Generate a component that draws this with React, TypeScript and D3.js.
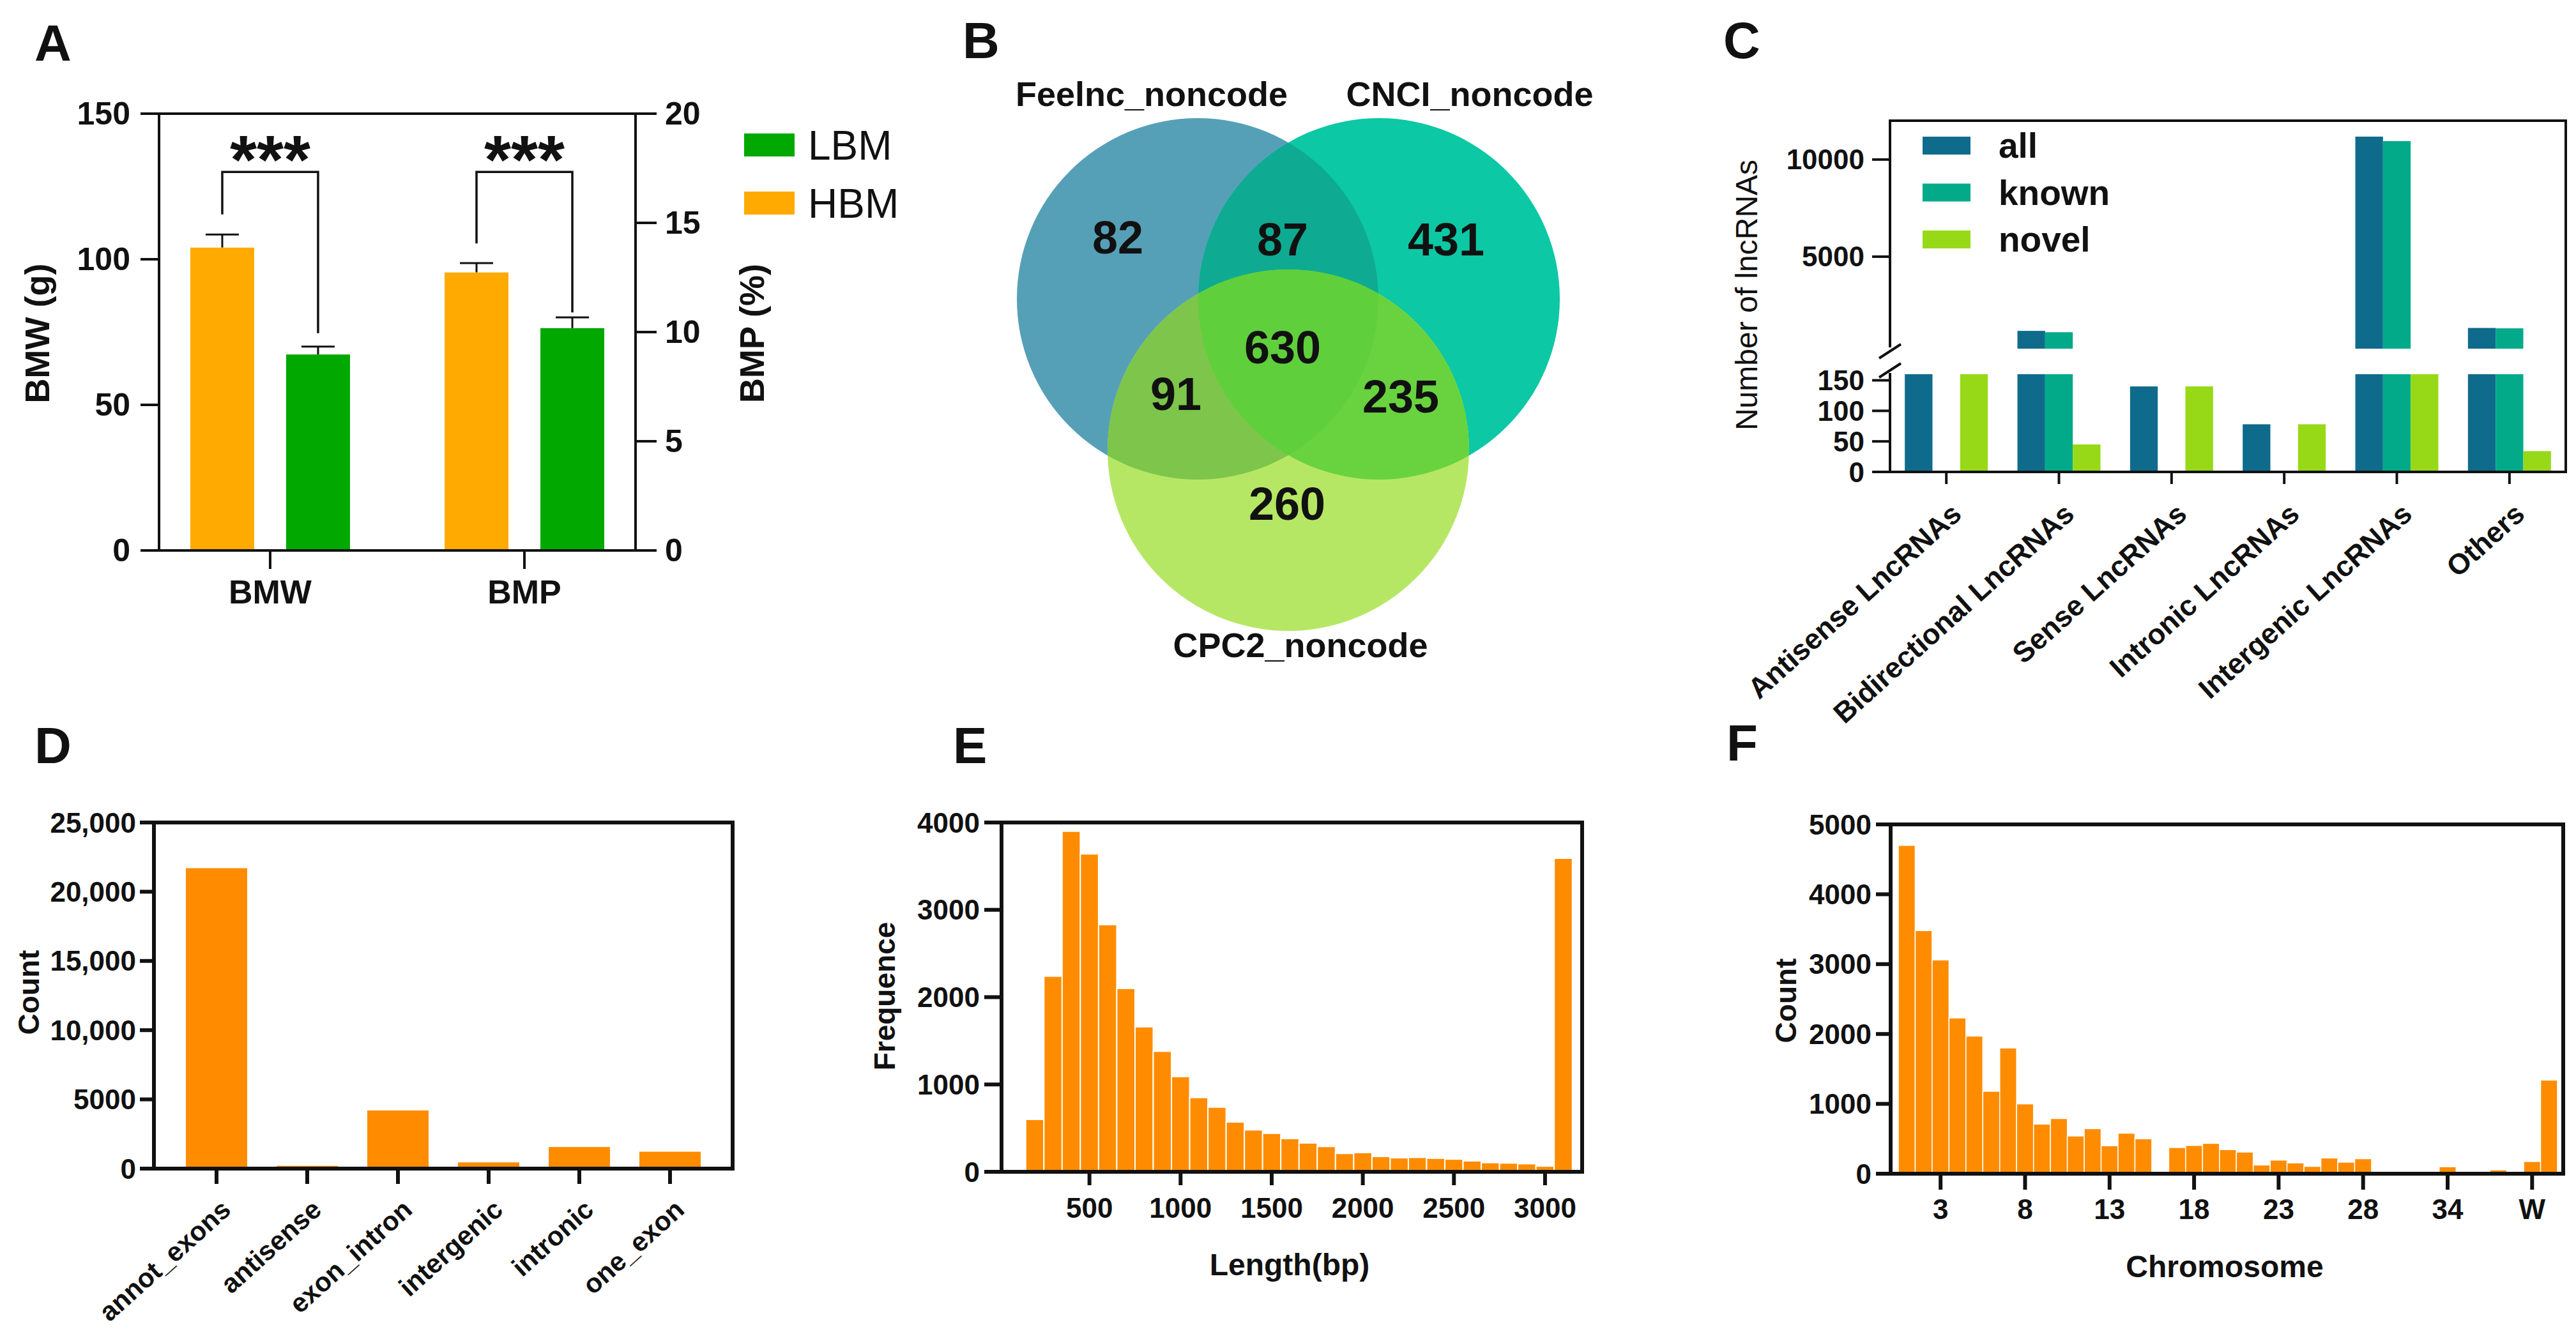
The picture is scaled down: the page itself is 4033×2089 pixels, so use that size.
import React from "react";
import * as d3 from "d3";

const FONT = "'Liberation Sans', Arial, Helvetica, sans-serif";
const INK = "#111111";

// ---------------- Panel A data ----------------
const aGroups = ["BMW", "BMP"];
const aSeries = ["HBM", "LBM"];
const aLegend = ["LBM", "HBM"];
const aHBMMean = [104, 12.73];
const aHBMErr = [4.5, 0.43];
const aLBMMean = [67.3, 10.18];
const aLBMErr = [2.7, 0.49];
const aSigLeft = [115.4, 14.06];
const aSigRight = [74.6, 10.9];
const aSigTop = [130, 17.33];
const aSigText = ["***", "***"];
const aTicksLeft = [0, 50, 100, 150];
const aTicksRight = [0, 5, 10, 15, 20];

// ---------------- Panel B data ----------------
const vennSets = ["Feelnc_noncode", "CNCI_noncode", "CPC2_noncode"];
const vennOnly = ["82", "431", "260"]; // Feelnc only, CNCI only, CPC2 only
const vennPairs = ["87", "91", "235"]; // F∩CN, F∩CP, CN∩CP
const vennAll = "630";

// ---------------- Panel C data ----------------
const cCats = [
  "Antisense LncRNAs",
  "Bidirectional LncRNAs",
  "Sense LncRNAs",
  "Intronic LncRNAs",
  "Intergenic LncRNAs",
  "Others",
];
const cSeries = ["all", "known", "novel"];
const cAll = [200, 1180, 140, 78, 11180, 1330];
const cKnown = [0, 1110, 0, 0, 10950, 1310];
const cNovel = [200, 45, 140, 78, 220, 34];
const cTicksUpper = [5000, 10000];
const cTicksLower = [0, 50, 100, 150];

// ---------------- Panel D data ----------------
const dCats = ["annot_exons", "antisense", "exon_intron", "intergenic", "intronic", "one_exon"];
const dCounts = [21700, 200, 4200, 450, 1560, 1220];
const dTicks = [0, 5000, 10000, 15000, 20000, 25000];
const dTickLabels = ["0", "5000", "10,000", "15,000", "20,000", "25,000"];

// ---------------- Panel E data ----------------
const eBinCenters = [
  200, 300, 400, 500, 600, 700, 800, 900, 1000, 1100, 1200, 1300, 1400, 1500, 1600,
  1700, 1800, 1900, 2000, 2100, 2200, 2300, 2400, 2500, 2600, 2700, 2800, 2900, 3000, 3100,
];
const eBinWidth = 100;
const eFreq = [
  600, 2240, 3900, 3640, 2830, 2100, 1660, 1380, 1090, 850, 740, 570, 480, 440, 380,
  330, 290, 210, 220, 175, 160, 165, 155, 145, 125, 105, 100, 92, 65, 3590,
];
const eTicksX = [500, 1000, 1500, 2000, 2500, 3000];
const eTicksY = [0, 1000, 2000, 3000, 4000];

// ---------------- Panel F data ----------------
const fChrom = [
  "1", "2", "3", "4", "5", "6", "7", "8", "9", "10", "11", "12", "13", "14", "15", "16",
  "17", "18", "19", "20", "21", "22", "23", "24", "25", "26", "27", "28", "30", "31", "32",
  "33", "34", "35", "36", "37", "38", "W", "Z",
];
const fCounts = [
  4700, 3480, 3060, 2230, 1970, 1180, 1800, 1000, 710, 790, 540, 645, 400, 580, 500, 0,
  375, 405, 435, 345, 310, 125, 195, 155, 105, 225, 165, 215, 20, 15, 10, 5, 100, 5, 10,
  55, 15, 175, 1340,
];
const fLabelled = ["3", "8", "13", "18", "23", "28", "34", "W"];
const fTicksY = [0, 1000, 2000, 3000, 4000, 5000];

// ---------------- colours ----------------
const COL_HBM = "#FFAA00";
const COL_LBM = "#00A800";
const COL_ORANGE = "#FF8C00";
const C_COLORS: Record<string, string> = { all: "#0F6B8C", known: "#03AA8A", novel: "#97D916" };
const VENN_ONLY = ["#56A0B7", "#0CC8A4", "#B6E764"];
const VENN_PAIR = ["#0EAB92", "#7DC54B", "#69D33F"];
const VENN_ALL = "#60CF3C";

const LABEL_ANGLE = -42;

// ---------------- helpers ----------------
function Letter({ x, y, t }: { x: number; y: number; t: string }) {
  return (
    <text x={x} y={y} fontSize={80} fontWeight="bold" fill={INK}>
      {t}
    </text>
  );
}

function YTicks({ scale, values, labels, x, len, gap, size, w, side = "left" }: any) {
  return (
    <g>
      {values.map((v: number, i: number) => {
        const y = scale(v);
        const left = side === "left";
        return (
          <g key={i}>
            <line x1={left ? x - len : x} x2={left ? x : x + len} y1={y} y2={y} stroke={INK} strokeWidth={w} />
            <text
              x={left ? x - len - gap : x + len + gap}
              y={y}
              textAnchor={left ? "end" : "start"}
              dominantBaseline="central"
              fontSize={size}
              fontWeight="bold"
              fill={INK}
            >
              {labels ? labels[i] : String(v)}
            </text>
          </g>
        );
      })}
    </g>
  );
}

function VTitle({ x, y, t, size, weight = "bold" }: any) {
  return (
    <text
      transform={`translate(${x},${y}) rotate(-90)`}
      textAnchor="middle"
      dominantBaseline="central"
      fontSize={size}
      fontWeight={weight}
      fill={INK}
    >
      {t}
    </text>
  );
}

function SlantLabel({ x, y, t, size }: any) {
  return (
    <text transform={`translate(${x},${y}) rotate(${LABEL_ANGLE})`} textAnchor="end" dy="0.35em"
      fontSize={size} fontWeight="bold" fill={INK}>
      {t}
    </text>
  );
}

// ---------------- Panel A ----------------
function PanelA() {
  const L = 249, R = 995, T = 178, B = 862;
  const yL = d3.scaleLinear().domain([0, 150]).range([B, T]);
  const yR = d3.scaleLinear().domain([0, 20]).range([B, T]);
  const yScales = [yL, yR];
  const x = d3.scalePoint<string>().domain(aGroups).range([L, R]).padding(0.437);
  const xs = d3.scaleBand<string>().domain(aSeries).range([-125, 125]).paddingInner(1 / 3);
  const bw = xs.bandwidth();
  const colors: Record<string, string> = { HBM: COL_HBM, LBM: COL_LBM };
  const means: Record<string, number[]> = { HBM: aHBMMean, LBM: aLBMMean };
  const errs: Record<string, number[]> = { HBM: aHBMErr, LBM: aLBMErr };
  const cx = (g: string, s: string) => (x(g) as number) + (xs(s) as number) + bw / 2;
  return (
    <g>
      <Letter x={54} y={95} t="A" />
      {aGroups.map((g, gi) =>
        aSeries.map((s) => {
          const y = yScales[gi];
          const c = cx(g, s);
          const m = means[s][gi];
          const e = errs[s][gi];
          return (
            <g key={g + s}>
              <line x1={c} x2={c} y1={y(m)} y2={y(m + e)} stroke={INK} strokeWidth={3} />
              <line x1={c - 26} x2={c + 26} y1={y(m + e)} y2={y(m + e)} stroke={INK} strokeWidth={3} />
              <rect x={c - bw / 2} y={y(m)} width={bw} height={B - y(m)} fill={colors[s]} />
            </g>
          );
        })
      )}
      {aGroups.map((g, gi) => {
        const y = yScales[gi];
        const xl = cx(g, "HBM");
        const xr = cx(g, "LBM");
        return (
          <g key={"sig" + g}>
            <path
              d={`M${xl},${y(aSigLeft[gi])}V${y(aSigTop[gi])}H${xr}V${y(aSigRight[gi])}`}
              fill="none"
              stroke={INK}
              strokeWidth={3.5}
            />
            <text x={x(g)} y={y(aSigTop[gi]) + 18} textAnchor="middle" fontSize={108} fontWeight="bold" fill={INK}>
              {aSigText[gi]}
            </text>
          </g>
        );
      })}
      <rect x={L} y={T} width={R - L} height={B - T} fill="none" stroke={INK} strokeWidth={4} />
      <YTicks scale={yL} values={aTicksLeft} x={L} len={29} gap={16} size={50} w={4} />
      <YTicks scale={yR} values={aTicksRight} x={R} len={33} gap={13} size={50} w={4} side="right" />
      {aGroups.map((g) => (
        <g key={"xt" + g}>
          <line x1={x(g)} x2={x(g)} y1={B} y2={B + 29} stroke={INK} strokeWidth={4} />
          <text x={x(g)} y={945} textAnchor="middle" fontSize={52} fontWeight="bold" fill={INK}>
            {g}
          </text>
        </g>
      ))}
      <VTitle x={58} y={522} t="BMW (g)" size={54} />
      <VTitle x={1177} y={522} t="BMP (%)" size={54} />
      {aLegend.map((s, i) => (
        <g key={"lg" + s}>
          <rect x={1165} y={209 + i * 91} width={79} height={36} fill={colors[s]} />
          <text x={1265} y={228 + i * 91} dominantBaseline="central" fontSize={64} fill={INK}>
            {s}
          </text>
        </g>
      ))}
    </g>
  );
}

// ---------------- Panel B ----------------
function PanelB() {
  const r = 283;
  const cs = [
    [1875, 468],
    [2159, 468],
    [2017, 705],
  ];
  const circ = (i: number, fill: string) => <circle cx={cs[i][0]} cy={cs[i][1]} r={r} fill={fill} />;
  const onlyPos = [
    [1750, 372],
    [2264, 375],
    [2015, 789],
  ];
  const pairPos = [
    [2008, 375],
    [1841, 617],
    [2193, 621],
  ];
  const allPos = [2008, 544];
  const setPos = [
    [1803, 147],
    [2301, 147],
    [2036, 1010],
  ];
  return (
    <g>
      <defs>
        {cs.map((c, i) => (
          <clipPath id={`vclip${i}`} key={i}>
            <circle cx={c[0]} cy={c[1]} r={r} />
          </clipPath>
        ))}
      </defs>
      <Letter x={1507} y={91} t="B" />
      {circ(0, VENN_ONLY[0])}
      {circ(1, VENN_ONLY[1])}
      {circ(2, VENN_ONLY[2])}
      <g clipPath="url(#vclip0)">{circ(1, VENN_PAIR[0])}</g>
      <g clipPath="url(#vclip0)">{circ(2, VENN_PAIR[1])}</g>
      <g clipPath="url(#vclip1)">{circ(2, VENN_PAIR[2])}</g>
      <g clipPath="url(#vclip0)">
        <g clipPath="url(#vclip1)">{circ(2, VENN_ALL)}</g>
      </g>
      {vennSets.map((s, i) => (
        <text key={s} x={setPos[i][0]} y={setPos[i][1]} textAnchor="middle" dominantBaseline="central"
          fontSize={54} fontWeight="bold" fill={INK}>
          {s}
        </text>
      ))}
      {vennOnly.map((v, i) => (
        <text key={"o" + i} x={onlyPos[i][0]} y={onlyPos[i][1]} textAnchor="middle" dominantBaseline="central"
          fontSize={72} fontWeight="bold" fill={INK}>
          {v}
        </text>
      ))}
      {vennPairs.map((v, i) => (
        <text key={"p" + i} x={pairPos[i][0]} y={pairPos[i][1]} textAnchor="middle" dominantBaseline="central"
          fontSize={72} fontWeight="bold" fill={INK}>
          {v}
        </text>
      ))}
      <text x={allPos[0]} y={allPos[1]} textAnchor="middle" dominantBaseline="central" fontSize={72}
        fontWeight="bold" fill={INK}>
        {vennAll}
      </text>
    </g>
  );
}

// ---------------- Panel C ----------------
function PanelC() {
  const L = 2959, R = 4017, T = 189, B = 739, BT = 544, BB = 584;
  const yUp = d3.scaleLinear().domain([263, 12000]).range([546, T]);
  const yLow = d3.scaleLinear().domain([0, 160]).range([B, 586]);
  const x = d3.scaleBand<string>().domain(cCats).range([L, R]);
  const xs = d3.scaleBand<string>().domain(cSeries).range([-65, 65]);
  const bw = xs.bandwidth();
  const vals: Record<string, number[]> = { all: cAll, known: cKnown, novel: cNovel };
  const slash = (y: number) => (
    <line x1={L - 17} y1={y + 11} x2={L + 17} y2={y - 11} stroke={INK} strokeWidth={4} />
  );
  return (
    <g>
      <Letter x={2698} y={91} t="C" />
      {cCats.map((c, ci) =>
        cSeries.map((s) => {
          const v = vals[s][ci];
          const x0 = (x(c) as number) + x.bandwidth() / 2 + (xs(s) as number);
          const low = Math.min(v, 160);
          return (
            <g key={c + s}>
              {v > 0 && <rect x={x0} y={yLow(low)} width={bw} height={B - yLow(low)} fill={C_COLORS[s]} />}
              {v > 263 && <rect x={x0} y={yUp(v)} width={bw} height={546 - yUp(v)} fill={C_COLORS[s]} />}
            </g>
          );
        })
      )}
      {/* frame with broken left axis */}
      <path d={`M${L},${BT}V${T}H${R}V${B}H${L}V${BB}`} fill="none" stroke={INK} strokeWidth={4} />
      {slash(BT + 6)}
      {slash(BB - 4)}
      <YTicks scale={yUp} values={cTicksUpper} x={L} len={28} gap={12} size={44} w={4} />
      <YTicks scale={yLow} values={cTicksLower} x={L} len={28} gap={12} size={44} w={4} />
      {cCats.map((c) => {
        const tx = (x(c) as number) + x.bandwidth() / 2;
        return (
          <g key={"xt" + c}>
            <line x1={tx} x2={tx} y1={B} y2={B + 19} stroke={INK} strokeWidth={4} />
            <SlantLabel x={tx + 16} y={B + 58} t={c} size={45} />
          </g>
        );
      })}
      <VTitle x={2734} y={462} t="Number of lncRNAs" size={48} weight="normal" />
      {cSeries.map((s, i) => (
        <g key={"lg" + s}>
          <rect x={3010} y={214 + i * 73.5} width={75} height={28} fill={C_COLORS[s]} />
          <text x={3129} y={228 + i * 73.5} dominantBaseline="central" fontSize={55} fontWeight="bold" fill={INK}>
            {s}
          </text>
        </g>
      ))}
    </g>
  );
}

// ---------------- Panel D ----------------
function PanelD() {
  const L = 241, R = 1147, T = 1288, B = 1830;
  const x = d3.scalePoint<string>().domain(dCats).range([L, R]).padding(0.69);
  const y = d3.scaleLinear().domain([0, 25000]).range([B, T]);
  const bw = 96;
  return (
    <g>
      <Letter x={54} y={1195} t="D" />
      {dCats.map((c, i) => (
        <rect key={c} x={(x(c) as number) - bw / 2} y={y(dCounts[i])} width={bw} height={B - y(dCounts[i])}
          fill={COL_ORANGE} />
      ))}
      <rect x={L} y={T} width={R - L} height={B - T} fill="none" stroke={INK} strokeWidth={6} />
      <YTicks scale={y} values={dTicks} labels={dTickLabels} x={L} len={22} gap={6} size={44} w={6} />
      {dCats.map((c) => {
        const tx = x(c) as number;
        return (
          <g key={"xt" + c}>
            <line x1={tx} x2={tx} y1={B} y2={B + 24} stroke={INK} strokeWidth={6} />
            <SlantLabel x={tx + 15} y={B + 57} t={c} size={42} />
          </g>
        );
      })}
      <VTitle x={45} y={1554} t="Count" size={46} />
    </g>
  );
}

// ---------------- Panel E ----------------
function PanelE() {
  const L = 1568, R = 2477, T = 1288, B = 1835;
  const x = d3.scaleLinear().domain([0, 3200]).range([1563, 2476]);
  const y = d3.scaleLinear().domain([0, 4000]).range([B, T]);
  return (
    <g>
      <Letter x={1492} y={1195} t="E" />
      {eBinCenters.map((c, i) => (
        <rect key={c} x={x(c - eBinWidth / 2)} y={y(eFreq[i])} width={x(c + eBinWidth / 2) - x(c - eBinWidth / 2)}
          height={B - y(eFreq[i])} fill={COL_ORANGE} stroke="#ffffff" strokeWidth={2} />
      ))}
      <rect x={L} y={T} width={R - L} height={B - T} fill="none" stroke={INK} strokeWidth={6} />
      <YTicks scale={y} values={eTicksY} x={L} len={27} gap={7} size={44} w={6} />
      {eTicksX.map((v) => (
        <g key={"xt" + v}>
          <line x1={x(v)} x2={x(v)} y1={B} y2={B + 21} stroke={INK} strokeWidth={6} />
          <text x={x(v)} y={1891} textAnchor="middle" dominantBaseline="central" fontSize={44} fontWeight="bold"
            fill={INK}>
            {v}
          </text>
        </g>
      ))}
      <VTitle x={1385} y={1560} t="Frequence" size={46} />
      <text x={2019} y={1980} textAnchor="middle" dominantBaseline="central" fontSize={48} fontWeight="bold"
        fill={INK}>
        Length(bp)
      </text>
    </g>
  );
}

// ---------------- Panel F ----------------
function PanelF() {
  const L = 2960, R = 4013, T = 1291, B = 1838;
  const x = d3.scaleBand<string>().domain(fChrom).range([2972, 4004]);
  const y = d3.scaleLinear().domain([0, 5000]).range([B, T]);
  return (
    <g>
      <Letter x={2703} y={1191} t="F" />
      {fChrom.map((c, i) => (
        <rect key={c} x={x(c)} y={y(fCounts[i])} width={x.bandwidth()} height={B - y(fCounts[i])}
          fill={COL_ORANGE} stroke="#ffffff" strokeWidth={1.5} />
      ))}
      <rect x={L} y={T} width={R - L} height={B - T} fill="none" stroke={INK} strokeWidth={6} />
      <YTicks scale={y} values={fTicksY} x={L} len={23} gap={7} size={44} w={6} />
      {fLabelled.map((c) => {
        const tx = (x(c) as number) + x.bandwidth() / 2;
        return (
          <g key={"xt" + c}>
            <line x1={tx} x2={tx} y1={B} y2={B + 25} stroke={INK} strokeWidth={6} />
            <text x={tx} y={1893} textAnchor="middle" dominantBaseline="central" fontSize={44} fontWeight="bold"
              fill={INK}>
              {c}
            </text>
          </g>
        );
      })}
      <VTitle x={2796} y={1567} t="Count" size={46} />
      <text x={3483} y={1983} textAnchor="middle" dominantBaseline="central" fontSize={48} fontWeight="bold"
        fill={INK}>
        Chromosome
      </text>
    </g>
  );
}

export default function App() {
  return (
    <svg
      width={4033}
      height={2089}
      viewBox="0 0 4033 2089"
      style={{ position: "absolute", left: 0, top: 0, display: "block" }}
      fontFamily={FONT}
    >
      <rect width={4033} height={2089} fill="#ffffff" />
      <PanelA />
      <PanelB />
      <PanelC />
      <PanelD />
      <PanelE />
      <PanelF />
    </svg>
  );
}
